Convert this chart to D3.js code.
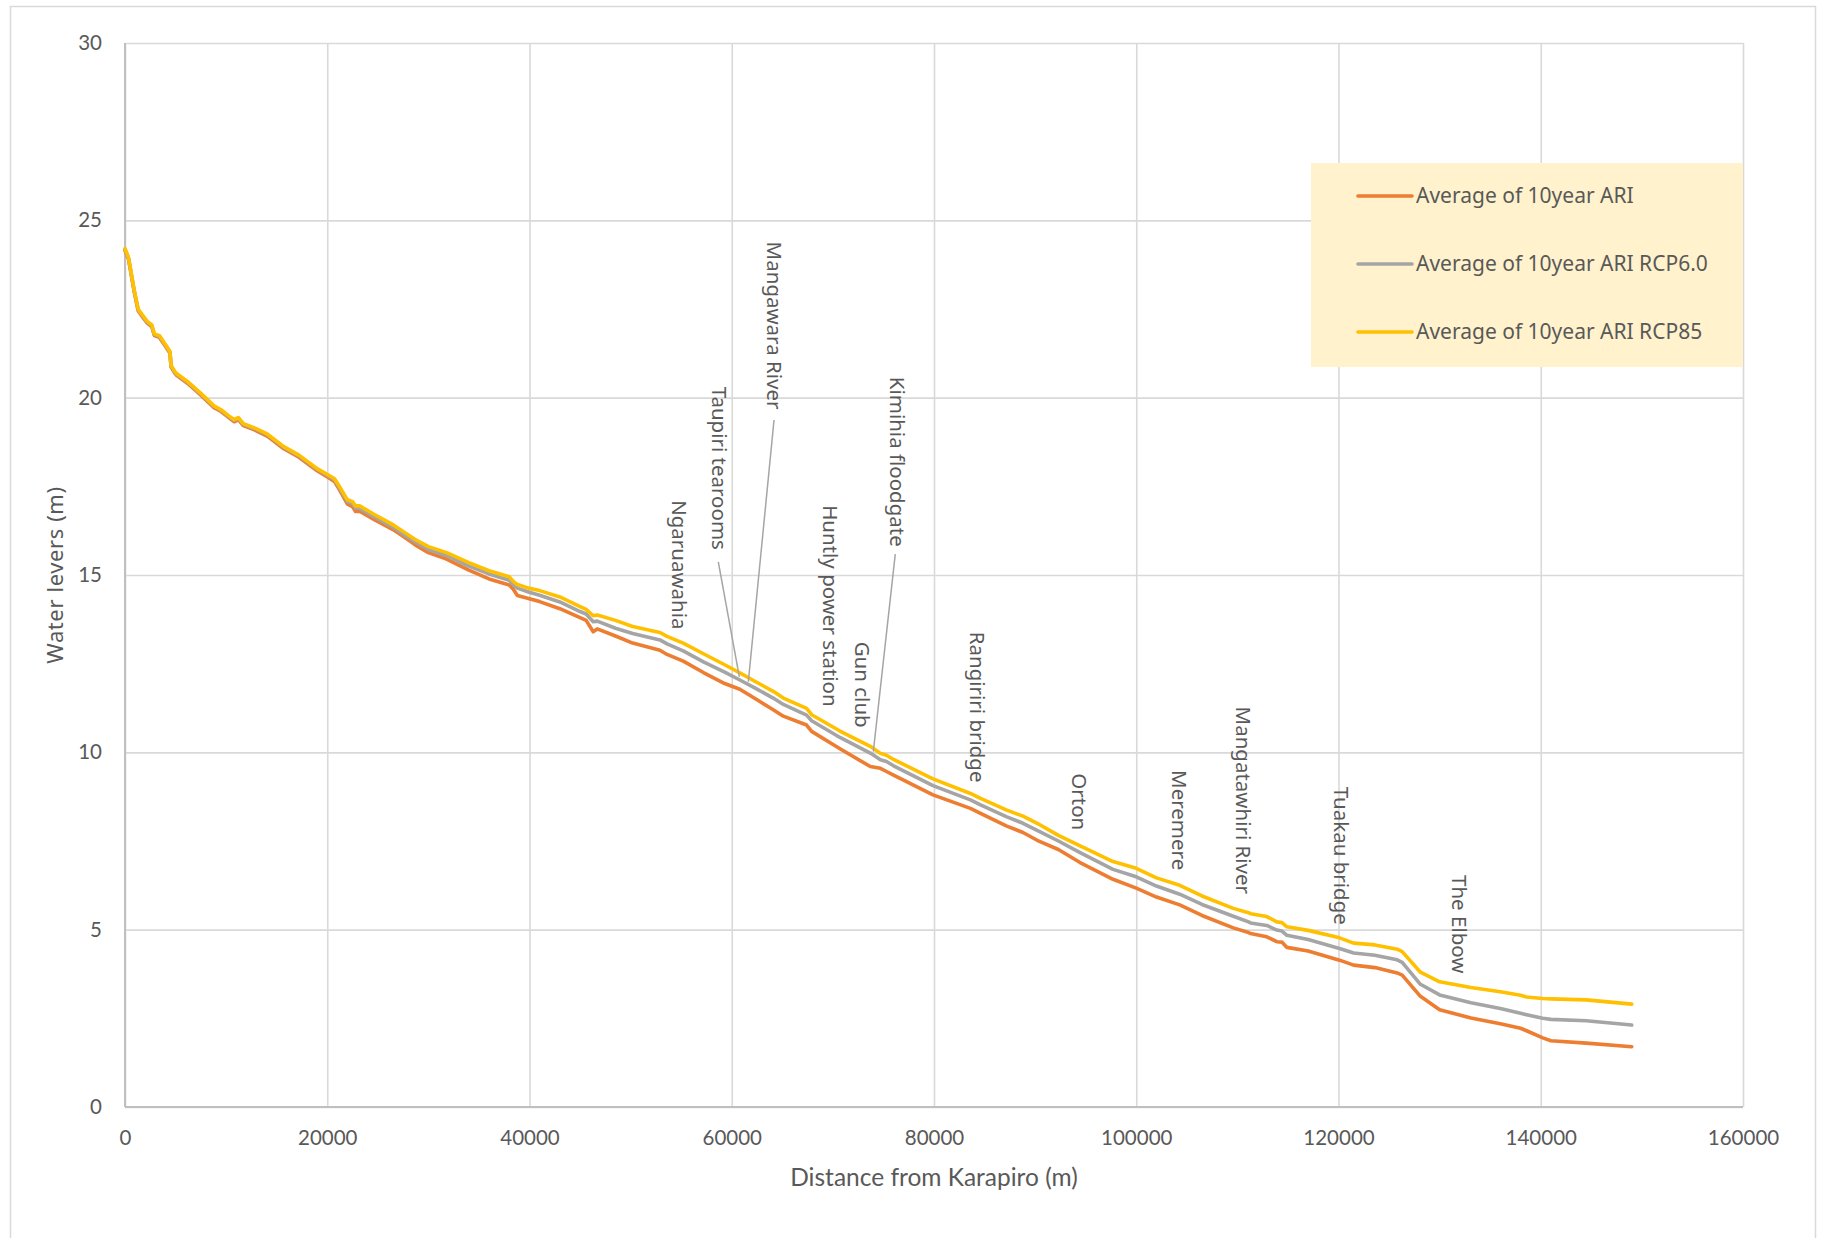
<!DOCTYPE html>
<html>
<head>
<meta charset="utf-8">
<script src="https://cdn.jsdelivr.net/npm/d3@7"></script>
<style>
  html, body { margin: 0; padding: 0; background: #ffffff; }
  svg { display: block; }
</style>
</head>
<body>
<div id="chart"></div>
<script>
// ---------------- DATA ----------------
const distance = [0, 350, 900, 1300, 1800, 2200, 2650, 2900, 3400, 4000, 4450, 4550, 4900, 5100, 6200, 7500, 8800, 9500, 10200, 10800, 11200, 11700, 12800, 14100, 15700, 17200, 19000, 20100, 20700, 21200, 22000, 22500, 22800, 23200, 24700, 26500, 27500, 28700, 30000, 31800, 34000, 36000, 38000, 38400, 38800, 39900, 41000, 43000, 45000, 45600, 46300, 46700, 48500, 50200, 52900, 53600, 55200, 57200, 59300, 60800, 62500, 64100, 65100, 67400, 67900, 70700, 73700, 74700, 75300, 76000, 79900, 83600, 84600, 87200, 88800, 90200, 92300, 94400, 97700, 100000, 102000, 104300, 106500, 109600, 111100, 111300, 112900, 113900, 114400, 114900, 117000, 120100, 121500, 123600, 125800, 126300, 128100, 130000, 133100, 136000, 138000, 138600, 140200, 141000, 144500, 149000];

const ari10 = [24.15, 23.9, 23.0, 22.45, 22.25, 22.1, 22.0, 21.75, 21.7, 21.45, 21.25, 20.87, 20.7, 20.63, 20.4, 20.07, 19.72, 19.61, 19.45, 19.32, 19.38, 19.21, 19.09, 18.91, 18.56, 18.32, 17.94, 17.75, 17.64, 17.41, 17.0, 16.93, 16.79, 16.8, 16.55, 16.28, 16.09, 15.85, 15.63, 15.45, 15.14, 14.89, 14.72, 14.6, 14.42, 14.34, 14.25, 14.05, 13.8, 13.72, 13.4, 13.48, 13.28, 13.08, 12.88, 12.76, 12.57, 12.25, 11.94, 11.78, 11.48, 11.2, 11.02, 10.77, 10.59, 10.1, 9.6, 9.55, 9.46, 9.36, 8.8, 8.42, 8.28, 7.92, 7.74, 7.52, 7.26, 6.9, 6.42, 6.17, 5.92, 5.7, 5.4, 5.05, 4.92, 4.89, 4.8, 4.66, 4.65, 4.5, 4.4, 4.14, 4.0, 3.93, 3.78, 3.72, 3.12, 2.74, 2.51, 2.35, 2.22, 2.15, 1.95, 1.87, 1.8, 1.7];

const ari10Rcp60 = [24.18, 23.93, 23.03, 22.48, 22.28, 22.13, 22.03, 21.78, 21.73, 21.48, 21.28, 20.9, 20.73, 20.66, 20.43, 20.1, 19.75, 19.64, 19.48, 19.36, 19.42, 19.25, 19.13, 18.95, 18.6, 18.36, 17.98, 17.79, 17.69, 17.46, 17.07, 17.01, 16.88, 16.88, 16.63, 16.35, 16.15, 15.93, 15.72, 15.55, 15.25, 15.03, 14.85, 14.72, 14.63, 14.52, 14.43, 14.24, 13.97, 13.9, 13.68, 13.7, 13.5, 13.35, 13.17, 13.06, 12.86, 12.55, 12.26, 12.04, 11.78, 11.53, 11.35, 11.05, 10.89, 10.42, 9.98, 9.79, 9.74, 9.62, 9.06, 8.66, 8.52, 8.18, 8.0, 7.8, 7.5, 7.18, 6.7, 6.49, 6.23, 6.0, 5.71, 5.38, 5.22, 5.19, 5.12, 4.99, 4.96, 4.84, 4.72, 4.47, 4.34, 4.28, 4.15, 4.08, 3.46, 3.16, 2.94, 2.78, 2.64, 2.6, 2.5, 2.47, 2.43, 2.31];

const ari10Rcp85 = [24.2, 23.95, 23.05, 22.5, 22.3, 22.15, 22.05, 21.8, 21.75, 21.5, 21.3, 20.92, 20.75, 20.68, 20.45, 20.12, 19.77, 19.66, 19.5, 19.38, 19.44, 19.27, 19.15, 18.97, 18.62, 18.38, 18.0, 17.82, 17.72, 17.5, 17.12, 17.07, 16.95, 16.95, 16.7, 16.42, 16.23, 16.0, 15.8, 15.63, 15.35, 15.12, 14.95, 14.82, 14.73, 14.63, 14.56, 14.38, 14.11, 14.03, 13.85, 13.87, 13.72, 13.55, 13.38, 13.27, 13.08, 12.78, 12.47, 12.24, 11.97, 11.72, 11.53, 11.24, 11.06, 10.6, 10.17, 9.97, 9.92, 9.8, 9.25, 8.84, 8.7, 8.37, 8.2, 8.0, 7.66, 7.37, 6.92, 6.73, 6.46, 6.25, 5.95, 5.6, 5.48, 5.45, 5.37, 5.22, 5.2, 5.08, 4.98, 4.77, 4.62, 4.57, 4.45, 4.38, 3.8, 3.53, 3.37, 3.25, 3.15, 3.1, 3.06, 3.05, 3.02, 2.9];

const seriesNames = ["Average of 10year ARI", "Average of 10year ARI RCP6.0", "Average of 10year ARI RCP85"];
const seriesColors = ["#ED7D31", "#A5A5A5", "#FFC000"];

const xTicks = [0, 20000, 40000, 60000, 80000, 100000, 120000, 140000, 160000];
const yTicks = [0, 5, 10, 15, 20, 25, 30];

const xTitle = "Distance from Karapiro (m)";
const yTitle = "Water levers (m)";

// Site annotations (label start, in data units)
const siteNames = ["Ngaruawahia", "Taupiri tearooms", "Mangawara River", "Huntly power station", "Gun club", "Kimihia floodgate", "Rangiriri bridge", "Orton", "Meremere", "Mangatawhiri River", "Tuakau bridge", "The Elbow"];
const siteLabelX = [54060, 58020, 63490, 69020, 72190, 75650, 83560, 93650, 103540, 109870, 119590, 131260];
const siteLabelY = [17.11, 20.31, 24.40, 16.97, 13.12, 20.59, 13.40, 9.41, 9.50, 11.29, 9.03, 6.54];

// Leader lines for some annotations (data units)
const leaderFromX = [58670, 64180, 76170];
const leaderFromY = [15.37, 19.37, 15.59];
const leaderToX = [60750, 61640, 74000];
const leaderToY = [12.13, 11.99, 10.02];

// ---------------- LAYOUT ----------------
const W = 1831, H = 1238;
const pLeft = 125, pRight = 1743, pTop = 43, pBottom = 1107;
const tickFont = "Lato, 'Open Sans', sans-serif";
const labelFont = "'Noto Sans', 'Open Sans', sans-serif";
const textColor = "#595959";

const svg = d3.select("#chart").append("svg")
  .attr("width", W).attr("height", H)
  .attr("viewBox", `0 0 ${W} ${H}`);

// outer chart border
svg.append("rect")
  .attr("x", 10.5).attr("y", 6.5)
  .attr("width", 1805).attr("height", 1260)
  .attr("fill", "#ffffff")
  .attr("stroke", "#d9d9d9").attr("stroke-width", 1.5);

const x = d3.scaleLinear().domain([0, 160000]).range([pLeft, pRight]);
const y = d3.scaleLinear().domain([0, 30]).range([pBottom, pTop]);

// gridlines
const gx = svg.append("g")
  .attr("transform", `translate(0,${pBottom})`)
  .call(d3.axisBottom(x).tickValues(xTicks).tickSize(-(pBottom - pTop)).tickFormat(""));
gx.select(".domain").remove();
gx.selectAll("line").attr("stroke", "#d9d9d9").attr("stroke-width", 1.6);

const gy = svg.append("g")
  .attr("transform", `translate(${pLeft},0)`)
  .call(d3.axisLeft(y).tickValues(yTicks).tickSize(-(pRight - pLeft)).tickFormat(""));
gy.select(".domain").remove();
gy.selectAll("line").attr("stroke", "#d9d9d9").attr("stroke-width", 1.6);

// axis lines
svg.append("line")
  .attr("x1", x(0)).attr("x2", x(0)).attr("y1", y(30)).attr("y2", y(0))
  .attr("stroke", "#bfbfbf").attr("stroke-width", 2);
svg.append("line")
  .attr("x1", x(0)).attr("x2", x(160000)).attr("y1", y(0)).attr("y2", y(0))
  .attr("stroke", "#bfbfbf").attr("stroke-width", 2);

// tick labels
const ax = svg.append("g")
  .attr("transform", `translate(0,${pBottom})`)
  .call(d3.axisBottom(x).tickValues(xTicks).tickSize(0).tickPadding(23).tickFormat(d3.format("d")));
ax.select(".domain").remove();
ax.selectAll("text").attr("font-family", tickFont).attr("font-size", 20.5).attr("fill", textColor);

const ay = svg.append("g")
  .attr("transform", `translate(${pLeft},0)`)
  .call(d3.axisLeft(y).tickValues(yTicks).tickSize(0).tickPadding(23).tickFormat(d3.format("d")));
ay.select(".domain").remove();
ay.selectAll("text").attr("font-family", tickFont).attr("font-size", 20.5).attr("fill", textColor);

// axis titles
svg.append("text")
  .attr("x", (pLeft + pRight) / 2).attr("y", 1186)
  .attr("text-anchor", "middle")
  .attr("font-family", tickFont).attr("font-size", 24.5).attr("fill", textColor)
  .text(xTitle);

svg.append("text")
  .attr("transform", `translate(63,${(pTop + pBottom) / 2}) rotate(-90)`)
  .attr("text-anchor", "middle")
  .attr("font-family", labelFont).attr("font-size", 22).attr("fill", textColor)
  .attr("letter-spacing", 0.6)
  .text(yTitle);

// series lines
const seriesValues = [ari10, ari10Rcp60, ari10Rcp85];
const line = d3.line()
  .x(d => x(d[0]))
  .y(d => y(d[1]));

seriesValues.forEach((vals, i) => {
  const pts = distance.map((dd, j) => [dd, vals[j]]);
  svg.append("path")
    .datum(pts)
    .attr("d", line)
    .attr("fill", "none")
    .attr("stroke", seriesColors[i])
    .attr("stroke-width", 3.6)
    .attr("stroke-linejoin", "round")
    .attr("stroke-linecap", "round");
});

// leader lines
leaderFromX.forEach((lx, i) => {
  svg.append("line")
    .attr("x1", x(lx)).attr("y1", y(leaderFromY[i]))
    .attr("x2", x(leaderToX[i])).attr("y2", y(leaderToY[i]))
    .attr("stroke", "#A5A5A5").attr("stroke-width", 1.5);
});

// site labels (rotated, reading top to bottom)
siteNames.forEach((name, i) => {
  svg.append("text")
    .attr("transform", `translate(${x(siteLabelX[i])},${y(siteLabelY[i])}) rotate(90)`)
    .attr("text-anchor", "start")
    .attr("font-family", labelFont).attr("font-size", 20.5).attr("fill", textColor)
    .text(name);
});

// legend
const lg = svg.append("g");
lg.append("rect")
  .attr("x", 1311).attr("y", 163)
  .attr("width", pRight - 1311).attr("height", 204)
  .attr("fill", "#FFF2CC");
const legendRows = [196, 264, 332];
seriesNames.forEach((name, i) => {
  lg.append("line")
    .attr("x1", 1358).attr("x2", 1412)
    .attr("y1", legendRows[i]).attr("y2", legendRows[i])
    .attr("stroke", seriesColors[i]).attr("stroke-width", 3.6)
    .attr("stroke-linecap", "round");
  lg.append("text")
    .attr("x", 1416).attr("y", legendRows[i])
    .attr("dy", "0.35em")
    .attr("font-family", labelFont).attr("font-size", 21).attr("fill", textColor)
    .text(name);
});
</script>
</body>
</html>
